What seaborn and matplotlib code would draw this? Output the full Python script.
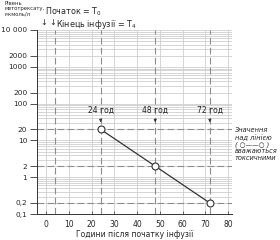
import numpy as np
import pandas as pd
import matplotlib
matplotlib.use("Agg")
import matplotlib.pyplot as plt
import seaborn as sns
from matplotlib.ticker import FixedLocator, LogLocator, MultipleLocator

# Chart data
HOURS = [24, 48, 72]
LEVELS = [20, 2, 0.2]
MARK_HOURS = [4, 24, 48, 72]
MARK_LEVELS = [20, 2, 0.2]
HOUR_LABELS = ["24 год", "48 год", "72 год"]
Y_TICKS = [0.1, 0.2, 1, 2, 10, 20, 100, 200, 1000, 2000, 10000]
Y_LABELS = ["0,1", "0,2", "1", "2", "10", "20", "100", "200", "1000", "2000", "10 000"]
X_TICKS = [0, 10, 20, 30, 40, 50, 60, 70, 80]

sns.set_style("white")
plt.rcParams["font.family"] = ["DejaVu Sans"]

df = pd.DataFrame({"hours": HOURS, "level": LEVELS})

fig = plt.figure(figsize=(2.8, 2.4), dpi=100)
ax = fig.add_axes([0.132, 0.108, 0.697, 0.767])
ax.set_yscale("log")
ax.set_xlim(-4, 81.8)
ax.set_ylim(0.1, 10000)

# grid lines
ax.yaxis.set_minor_locator(LogLocator(base=10, subs=np.arange(2, 10)))
ax.grid(True, which="minor", axis="y", color="#cfcfcf", lw=0.6)
ax.grid(True, which="major", axis="y", color="#cfcfcf", lw=0.6)
ax.xaxis.set_major_locator(FixedLocator(X_TICKS))
ax.xaxis.set_minor_locator(MultipleLocator(2))
ax.grid(True, which="major", axis="x", color="#cfcfcf", lw=0.6)

for h in MARK_HOURS:
    ax.axvline(h, color="#8c8c8c", ls=(0, (6, 3)), lw=0.8)
for v in MARK_LEVELS:
    ax.axhline(v, color="#8c8c8c", ls=(0, (6, 3)), lw=0.8)

sns.lineplot(data=df, x="hours", y="level", ax=ax, color="#333333", lw=0.9,
             marker="o", markersize=5, markerfacecolor="white",
             markeredgecolor="#333333", markeredgewidth=0.8)

# hour labels, all on one row with short arrows down the dashed lines
for h, lab in zip(HOURS, HOUR_LABELS):
    ax.text(h, 50, lab, ha="center", va="bottom", fontsize=5.5, color="#222222")
    ax.annotate("", xy=(h, 26), xytext=(h, 45),
                arrowprops=dict(arrowstyle="-|>", color="#333333", lw=0.6,
                                mutation_scale=4))

ax.set_yticks(Y_TICKS)
ax.set_yticklabels(Y_LABELS)
ax.tick_params(axis="y", which="major", direction="out", length=5, width=0.6,
               labelsize=5.3, pad=2, color="#333333")
ax.tick_params(axis="y", which="minor", direction="out", length=2.5, width=0.5,
               color="#333333")
ax.tick_params(axis="x", which="major", direction="in", length=2.5, width=0.5,
               labelsize=5.5, pad=4, color="#333333")
ax.tick_params(axis="x", which="minor", direction="in", length=1.5, width=0.4,
               color="#333333")
ax.yaxis.set_tick_params(left=True)
ax.xaxis.set_tick_params(bottom=True)
for side in ["top", "right"]:
    ax.spines[side].set_visible(False)
for side in ["left", "bottom"]:
    ax.spines[side].set_color("#333333")
    ax.spines[side].set_linewidth(0.7)

ax.set_xlabel("Години після початку інфузії", fontsize=5.5, labelpad=1)
ax.set_ylabel("")

fig.text(0.015, 0.995, "Рівень\nметотрексату,\nмкмоль/л", fontsize=3.8, va="top",
         ha="left", linespacing=1.0)
fig.text(0.16, 0.975, "Початок = T$_0$", fontsize=5.8, va="top", ha="left")
fig.text(0.158, 0.925, "↓", fontsize=5.8, va="top", ha="center")
fig.text(0.19, 0.925, "↓", fontsize=5.8, va="top", ha="center")
fig.text(0.2, 0.925, "Кінець інфузії = T$_4$", fontsize=5.8, va="top", ha="left")
fig.text(0.838, 0.40, "Значення\nнад лінією\n( ○——○ )\nвважаються\nтоксичними",
         fontsize=4.8, style="italic", va="center", ha="left", linespacing=1.1)

fig.savefig("out.png", dpi=100)
